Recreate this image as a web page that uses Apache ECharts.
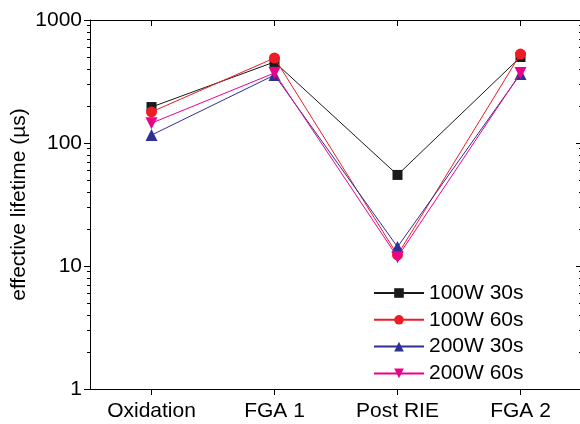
<!DOCTYPE html>
<html>
<head>
<meta charset="utf-8">
<script src="https://cdn.jsdelivr.net/npm/echarts@6/dist/echarts.min.js"></script>
<style>html,body{margin:0;padding:0;background:#fff}#c{width:580px;height:424px}</style>
</head>
<body>
<div id="c"></div>
<script>
var categories = ['Oxidation', 'FGA 1', 'Post RIE', 'FGA 2'];
var s100W30s = [196, 456, 55, 500];
var s100W60s = [179, 491, 12.3, 529];
var s200W30s = [116, 357, 14.3, 364];
var s200W60s = [145, 371, 11.8, 371];
var seriesNames = ['100W 30s', '100W 60s', '200W 30s', '200W 60s'];
var yMajorTicks = [1, 10, 100, 1000];
var yMinorTicks = [2,3,4,5,6,7,8,9,20,30,40,50,60,70,80,90,200,300,400,500,600,700,800,900];

var FONT = 'Liberation Sans, Arial, sans-serif';
var chart = echarts.init(document.getElementById('c'), null, {renderer: 'canvas'});

function yAx(pos, isMinor, gridIndex, showName) {
  var inside = pos === 'right';
  var o = {
    type: 'log', logBase: 10, min: 1, max: 1000, position: pos, gridIndex: gridIndex,
    splitLine: {show: false},
    axisLine: {show: !isMinor, onZero: false, lineStyle: {color: '#000', width: 1}},
    axisTick: {show: true, inside: inside, length: isMinor ? 3 : 6,
      customValues: isMinor ? yMinorTicks : yMajorTicks,
      lineStyle: {color: '#000', width: 1}},
    axisLabel: {show: pos === 'left' && !isMinor, customValues: yMajorTicks,
      formatter: function (v) { return String(v); },
      fontSize: 21, color: '#000', fontFamily: FONT, margin: 8}
  };
  if (showName) {
    o.name = 'effective lifetime (\u00b5s)';
    o.nameLocation = 'middle';
    o.nameRotate = 90;
    o.nameGap = 60;
    o.nameMoveOverlap = false;
    o.nameTextStyle = {fontSize: 21, color: '#000', fontFamily: FONT};
  }
  return o;
}

var colors = ['#1a1a1a', '#ee1c24', '#2e3192', '#ec008c'];
var symbols = ['rect', 'circle', 'triangle', 'triangle'];
var rotates = [0, 0, 0, 180];
var sizes = [10, 11, 12, 12];
var dataSets = [s100W30s, s100W60s, s200W30s, s200W60s];

var series = dataSets.map(function (d, i) {
  return {
    name: seriesNames[i], type: 'line', data: d,
    xAxisIndex: 0, yAxisIndex: 0,
    symbol: symbols[i], symbolRotate: rotates[i], symbolSize: sizes[i],
    showAllSymbol: true,
    lineStyle: {color: colors[i], width: 1},
    itemStyle: {color: colors[i]},
    emphasis: {disabled: true},
    animation: false, z: 2 + i
  };
});

var gridRect = {left: 90, top: 20, right: -2, height: 369, containLabel: false, outerBoundsMode: 'none'};

chart.setOption({
  animation: false,
  backgroundColor: '#fff',
  textStyle: {fontFamily: FONT},
  grid: [Object.assign({}, gridRect), Object.assign({}, gridRect)],
  legend: {
    orient: 'vertical', left: 373, top: 282.5, padding: 0,
    itemWidth: 50, itemHeight: 12, itemGap: 5.8,
    data: seriesNames,
    textStyle: {fontSize: 21, color: '#000', fontFamily: FONT, lineHeight: 21},
    selectedMode: false
  },
  xAxis: [{
    type: 'category', data: categories, position: 'bottom', boundaryGap: true, gridIndex: 0,
    axisLine: {show: true, onZero: false, lineStyle: {color: '#000', width: 1}},
    axisTick: {show: true, alignWithLabel: true, length: 6, lineStyle: {color: '#000'}},
    axisLabel: {fontSize: 21, color: '#000', fontFamily: FONT, margin: 12},
    splitLine: {show: false}
  }, {
    type: 'category', data: categories, position: 'top', boundaryGap: true, gridIndex: 0,
    axisLine: {show: true, onZero: false, lineStyle: {color: '#000', width: 1}},
    axisTick: {show: true, alignWithLabel: true, inside: true, length: 6, lineStyle: {color: '#000'}},
    axisLabel: {show: false},
    splitLine: {show: false}
  }, {
    type: 'category', data: categories, position: 'bottom', gridIndex: 1, show: false
  }],
  yAxis: [
    yAx('left', false, 0, true),
    yAx('right', false, 0, false),
    yAx('left', true, 1, false),
    yAx('right', true, 1, false)
  ],
  series: series
});
</script>
</body>
</html>
